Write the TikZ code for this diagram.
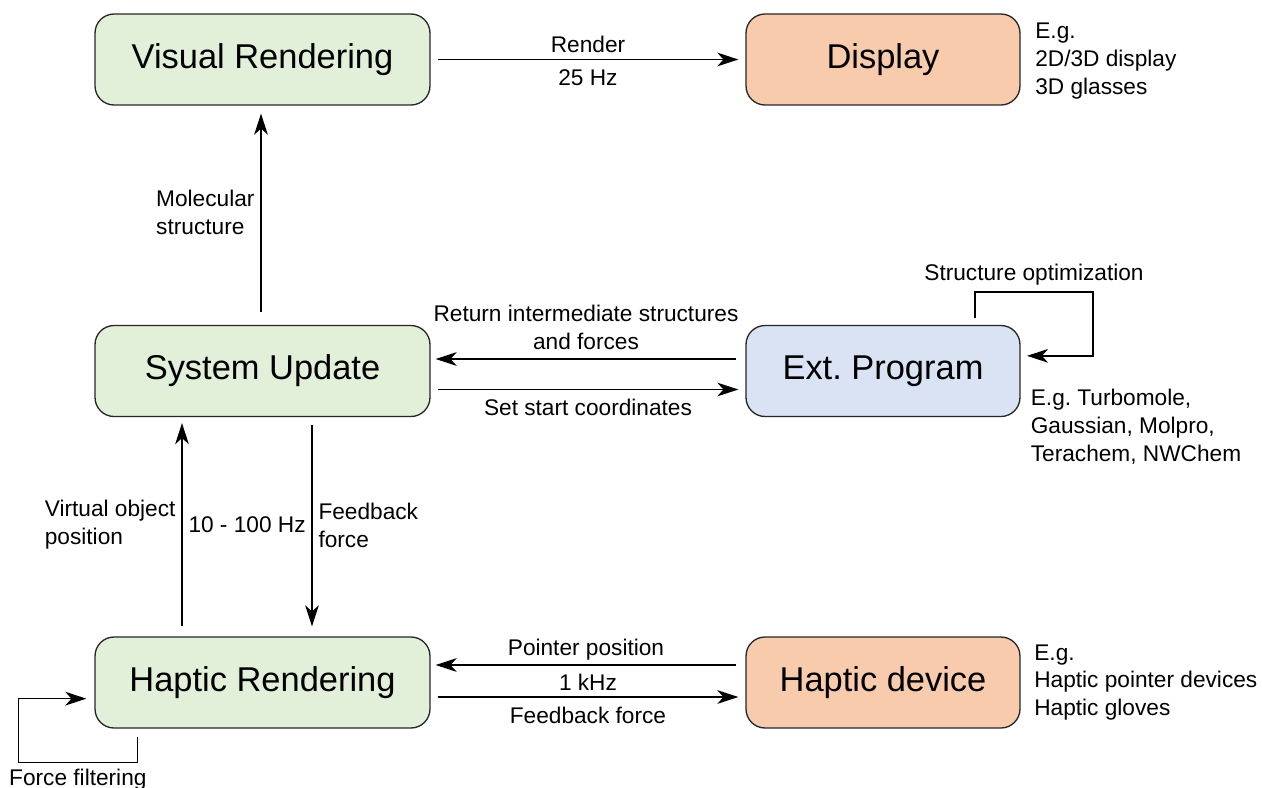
\documentclass[tikz,border=0pt]{standalone}
\usepackage{fontspec}
\setmainfont{Liberation Sans}
\usepackage{tikz}
\usetikzlibrary{positioning, arrows.meta, calc}
\definecolor{boxgreen}{RGB}{226, 240, 217}
\definecolor{boxorange}{RGB}{248, 203, 173}
\definecolor{boxblue}{RGB}{218, 227, 243}
\frenchspacing

\begin{document}
\begin{tikzpicture}[
  x=0.02cm, y=-0.02cm,
  font=\fontsize{12.9}{15.9}\selectfont,
  block/.style={draw=black!85, line width=0.75pt, rounded corners=3.8mm, align=center,
    font=\fontsize{19.6}{23}\selectfont, minimum height=18.2mm},
  greenbox/.style={block, fill=boxgreen, minimum width=67mm},
  sidebox/.style={block, minimum width=54.8mm},
  conn/.style={-{Stealth[length=12pt, width=7.8pt, inset=3.5pt]}, line width=0.75pt},
  note/.style={align=left},
  under/.style={below, yshift=-1.8pt}
]
  \useasboundingbox (0,0) rectangle (1262,788);

  \node[greenbox] (vis) at (262.5,59.5) {Visual Rendering};
  \node[sidebox, fill=boxorange] (disp) at (883,59.5) {Display};
  \node[greenbox] (sys) at (262.5,371) {System Update};
  \node[sidebox, fill=boxblue] (ext) at (883,371) {Ext. Program};
  \node[greenbox] (hap) at (262.5,682.5) {Haptic Rendering};
  \node[sidebox, fill=boxorange] (dev) at (883,682.5) {Haptic device};

  \node[note, right=1.7mm of disp, yshift=-0.8pt] (dispnote) {E.g.\\2D/3D display\\3D glasses};
  \node[note, anchor=west] (extnote) at ($(ext.east)+(4,56)$)
    {E.g. Turbomole,\\Gaussian, Molpro,\\Terachem, NWChem};
  \node[note, right=1.5mm of dev] (devnote) {E.g.\\Haptic pointer devices\\Haptic gloves};

  % top row
  \draw[conn] ($(vis.east)+(7,0)$) -- ($(disp.west)+(-7,0)$)
    node[midway, above] (lrender) {Render}
    node[midway, under] (lrate) {25 Hz};
  \draw[conn] ($(sys.north)+(-1.5,-13)$) -- ($(vis.south)+(-1.5,8)$)
    node[midway, left, align=left] (lmol) {Molecular\\structure};

  % middle row
  \draw[conn] ($(ext.west)+(-9,-12)$) -- ($(sys.east)+(5,-12)$)
    node[midway, above, yshift=1.5pt, align=center] (lreturn) {Return intermediate structures\\and forces};
  \draw[conn] ($(sys.east)+(7,18.5)$) -- ($(ext.west)+(-7,18.5)$)
    node[midway, under] (lset) {Set start coordinates};
  \draw[conn] ($(ext.north)+(92,-7)$) -- ++(0,-26)
    -- ++(118,0) node[midway, above] (lopt) {Structure optimization}
    -- ++(0,64) -- ++(-66,0);

  % haptic loop
  \draw[conn] ($(hap.north)+(-80.5,-10)$) -- ($(sys.south)+(-80.5,6)$)
    node[midway, left, align=left] (lvirt) {Virtual object\\position}
    node[midway, right] (lhz) {10 - 100 Hz};
  \draw[conn] ($(sys.south)+(49.5,8)$) -- ($(hap.north)+(49.5,-10)$)
    node[midway, right, align=left] (lfeed) {Feedback\\force};

  % bottom row
  \draw[conn] ($(dev.west)+(-9,-17.5)$) -- ($(hap.east)+(5,-17.5)$)
    node[midway, above, yshift=-1.2pt] (lpointer) {Pointer position};
  \draw[conn] ($(hap.east)+(7,14.5)$) -- ($(dev.west)+(-7,14.5)$)
    node[midway, above] (lkhz) {1 kHz}
    node[midway, under] (lforce) {Feedback force};
  \draw[conn] ($(hap.south west)+(43,8)$) -- ++(0,26)
    -- ++(-119,0) node[midway, below] (lfilter) {Force filtering}
    -- ++(0,-64) -- ++(68,0);
\end{tikzpicture}
\end{document}
